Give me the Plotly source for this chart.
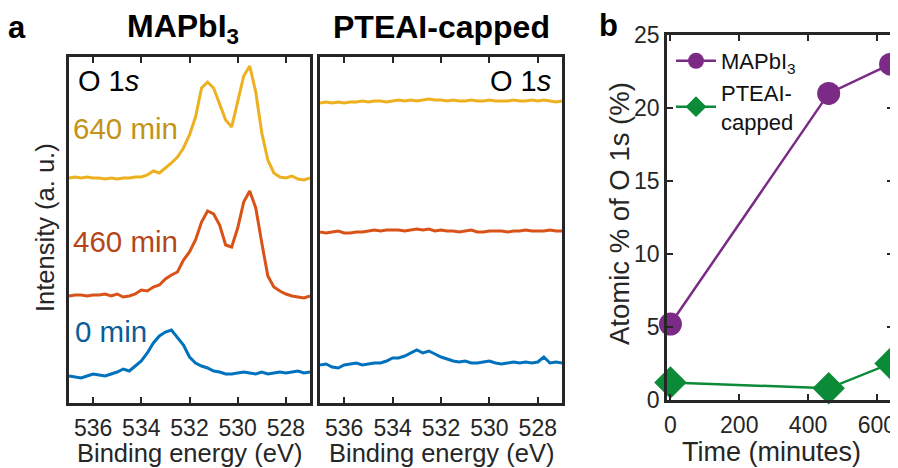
import plotly.graph_objects as go

# ---------------- data ----------------
energy = [537 - 0.25 * i for i in range(41)]  # binding energy grid (eV)

mapbi_640 = [225, 226, 225, 226, 225, 225, 224, 225, 224, 225, 225, 226, 226, 228, 232, 230,
             235, 240, 246, 255, 268, 286, 315, 321, 315, 298, 283, 276, 301, 327, 337, 311,
             270, 243, 230, 226, 225, 227, 224, 223, 225]
mapbi_460 = [107, 108, 108, 107, 108, 108, 109, 107, 109, 106, 107, 109, 113, 112, 116, 118,
             124, 128, 131, 143, 151, 163, 181, 192, 189, 178, 158, 156, 175, 201, 212, 195,
             160, 127, 116, 112, 109, 107, 106, 105, 107]
mapbi_0 = [27, 26, 25, 27, 29, 28, 27, 29, 31, 34, 32, 37, 42, 50, 60, 67,
           71, 73, 65, 58, 46, 40, 37, 35, 32, 31, 29, 29, 30, 31, 30, 29,
           31, 29, 30, 31, 30, 31, 32, 30, 31]

ptea_640 = [300, 301, 300, 301, 300, 301, 301, 302, 301, 302, 302, 301, 302, 303, 302, 303,
            302, 303, 304, 303, 303, 302, 303, 302, 302, 303, 302, 302, 303, 302, 302, 302,
            303, 302, 302, 303, 302, 303, 302, 301, 302]
ptea_460 = [171, 170, 171, 172, 170, 170, 171, 171, 172, 173, 172, 173, 173, 173, 172, 173,
            174, 173, 174, 172, 173, 172, 172, 171, 172, 173, 171, 171, 172, 172, 172, 171,
            172, 172, 173, 172, 172, 172, 173, 172, 172]
ptea_0 = [38, 39, 36, 35, 38, 39, 40, 38, 39, 40, 40, 42, 45, 45, 47, 50,
          53, 50, 52, 49, 46, 44, 42, 41, 42, 40, 40, 41, 42, 40, 39, 40,
          41, 40, 41, 40, 41, 46, 40, 41, 40]

time_min = [0, 460, 640]
atomic_mapbi = [5.2, 21.0, 23.0]
atomic_ptea = [1.2, 0.8, 2.5]

energy_ticks = [536, 534, 532, 530, 528]
atomic_ticks = [0, 5, 10, 15, 20, 25]
time_ticks = [0, 200, 400, 600]

c_yel, c_ora, c_blu = "#EDB120", "#D95319", "#0072BD"
t_yel, t_ora, t_blu = "#C39318", "#B5461A", "#0B5C98"
c_pur, c_grn = "#7B2A86", "#0B8A37"
axc = "#262626"
FONT = "Liberation Sans, Arial, Helvetica, sans-serif"

# the page body adds an 8px margin, so the figure is drawn 8px in from the window corner
OFF = 8
W, H = 898 - OFF, 468 - OFF
def px(x):
    return (x - OFF) / W
def py(y):
    return 1 - (y - OFF) / H

fig = go.Figure()

for ys, col in [(mapbi_0, c_blu), (mapbi_460, c_ora), (mapbi_640, c_yel)]:
    fig.add_trace(go.Scatter(x=energy, y=ys, mode="lines", line=dict(color=col, width=3),
                             xaxis="x", yaxis="y", showlegend=False, hoverinfo="skip"))
for ys, col in [(ptea_0, c_blu), (ptea_460, c_ora), (ptea_640, c_yel)]:
    fig.add_trace(go.Scatter(x=energy, y=ys, mode="lines", line=dict(color=col, width=3),
                             xaxis="x2", yaxis="y2", showlegend=False, hoverinfo="skip"))

fig.add_trace(go.Scatter(x=time_min, y=atomic_mapbi, mode="lines+markers", name="MAPbI<sub>3</sub>",
                         line=dict(color=c_pur, width=2.5),
                         marker=dict(symbol="circle", size=23, color=c_pur),
                         xaxis="x3", yaxis="y3", cliponaxis=False))
fig.add_trace(go.Scatter(x=time_min, y=atomic_ptea, mode="lines+markers", name="PTEAI-<br>capped",
                         line=dict(color=c_grn, width=2.5),
                         marker=dict(symbol="diamond", size=25, color=c_grn),
                         xaxis="x3", yaxis="y3", cliponaxis=False))

tickfont = dict(family=FONT, size=23, color=axc)

common_x = dict(range=[537, 527], tickvals=energy_ticks, ticks="inside", ticklen=6, tickwidth=2,
                tickcolor=axc, showline=True, linewidth=2.5, linecolor=axc, mirror="ticks",
                showgrid=False, zeroline=False, tickfont=tickfont, ticklabelstandoff=3,
                automargin=False)
common_y = dict(range=[0, 346], showticklabels=False, ticks="", showline=True, linewidth=2.5,
                linecolor=axc, mirror=True, showgrid=False, zeroline=False, automargin=False)

ydom = [py(403), py(57)]
fig.update_layout(
    width=W, height=H, margin=dict(l=0, r=0, t=0, b=0, autoexpand=False),
    paper_bgcolor="white", plot_bgcolor="white",
    xaxis=dict(domain=[px(69), px(310)], anchor="y", **common_x),
    yaxis=dict(domain=ydom, anchor="x", **common_y),
    xaxis2=dict(domain=[px(320), px(562)], anchor="y2", **common_x),
    yaxis2=dict(domain=ydom, anchor="x2", **common_y),
    xaxis3=dict(domain=[px(667), px(893)], anchor="y3", range=[-10, 647], tickvals=time_ticks,
                ticks="inside", ticklen=6, tickwidth=2, tickcolor=axc, showline=True,
                linewidth=2.5, linecolor=axc, mirror="ticks", showgrid=False, zeroline=False,
                tickfont=tickfont, ticklabelstandoff=3, automargin=False,
                ticklabeloverflow="allow"),
    yaxis3=dict(domain=[py(400), py(35)], anchor="x3", range=[0, 25], tickvals=atomic_ticks,
                ticks="inside", ticklen=6, tickwidth=2, tickcolor=axc, showline=True,
                linewidth=2.5, linecolor=axc, mirror="ticks", showgrid=False, zeroline=False,
                tickfont=tickfont, ticklabelstandoff=0, automargin=False),
    legend=dict(x=px(671), y=py(40), xanchor="left", yanchor="top", bgcolor="rgba(0,0,0,0)",
                font=dict(family=FONT, size=22, color="#111111"), itemwidth=40,
                tracegroupgap=5),
    showlegend=True,
)

ann = []
def add(text, x, y, size, color="#000000", xanchor="center", yanchor="middle", textangle=0):
    ann.append(dict(text=text, x=px(x), y=py(y), xref="paper", yref="paper", showarrow=False,
                    xanchor=xanchor, yanchor=yanchor, textangle=textangle,
                    font=dict(family=FONT, size=size, color=color)))

add("<b>a</b>", 17, 28, 31)
add("<b>b</b>", 608, 25, 31)
add("<b>MAPbI<sub>3</sub></b>", 183, 29, 32)
add("<b>PTEAI-capped</b>", 441, 27, 32)
add("Intensity (a. u.)", 45, 228, 25.5, color=axc, textangle=-90)
add("Binding energy (eV)", 189, 453, 25.5, color=axc)
add("Binding energy (eV)", 441, 453, 25.5, color=axc)
add("Atomic % of O 1s (%)", 619, 214, 27.5, color=axc, textangle=-90)
add("Time (minutes)", 771, 452, 27, color=axc)
add("O 1<i>s</i>", 76, 81, 29, xanchor="left")
add("O 1<i>s</i>", 553, 81, 29, xanchor="right")
add("640 min", 71, 128, 29.5, color=t_yel, xanchor="left")
add("460 min", 71, 242, 29.5, color=t_ora, xanchor="left")
add("0 min", 73, 331, 29.5, color=t_blu, xanchor="left")
fig.update_layout(annotations=ann)

fig.write_html("out.html")
